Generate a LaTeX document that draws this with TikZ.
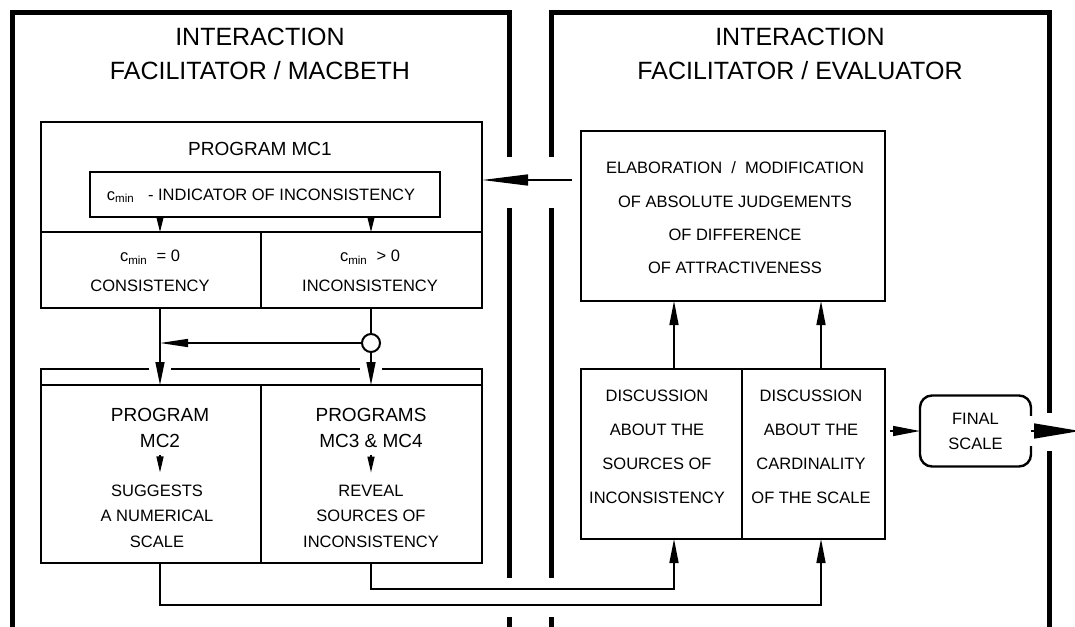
\documentclass[tikz,border=0pt]{standalone}
\usepackage{fontspec}
\setmainfont{Liberation Sans}
\usetikzlibrary{arrows.meta}
\begin{document}
\begin{tikzpicture}[x=1pt,y=-1pt,
  outerframe/.style={line width=5pt, line join=miter},
  panel/.style={draw, line width=2.6pt, inner sep=0pt, outer sep=0pt},
  cell/.style={inner sep=0pt, outer sep=0pt},
  rule/.style={line width=1.8pt},
  conn/.style={line width=1.5pt},
  head/.style={-{Triangle[length=24pt,width=9pt]}},
  title/.style={font=\fontsize{25}{34}\selectfont, align=center, inner sep=0pt},
  prog/.style={font=\fontsize{19}{26}\selectfont, align=center, inner sep=0pt},
  plain/.style={font=\fontsize{16.5}{30}\selectfont, align=center, inner sep=0pt},
]
\useasboundingbox (0,0) rectangle (1075,626);

% outer frames of the two actors
\draw[outerframe] (509,157) -- (509,13) -- (12,13) -- (12,640);
\draw[outerframe] (509,208) -- (509,578);
\draw[outerframe] (509,617) -- (509,640);
\draw[outerframe] (551,157) -- (551,13) -- (1049,13) -- (1049,413);
\draw[outerframe] (1049,451) -- (1049,640);
\draw[outerframe] (551,208) -- (551,578);
\draw[outerframe] (551,617) -- (551,640);

\node[title] (ltitle) at (260,54) {INTERACTION\\FACILITATOR / MACBETH};
\node[title] (rtitle) at (800,54) {INTERACTION\\FACILITATOR / EVALUATOR};

% column positions of the vertical connectors
\coordinate (colL) at (160,0);
\coordinate (colR) at (371,0);
\coordinate (colA) at (674,0);
\coordinate (colB) at (821,0);

% program MC1
\node[panel, minimum width=441pt, minimum height=186pt, anchor=north west] (mc1) at (41,122) {};
\node[prog] (mc1t) at (260,149) {PROGRAM MC1};
\node[draw, line width=2pt, minimum width=350pt, minimum height=45pt, inner sep=0pt, outer sep=0pt,
      text height=11.8pt, text depth=0pt, font=\fontsize{16.5}{20}\selectfont]
      (ind) at (265,194.5) {\hspace*{-8pt}c\textsubscript{min}\ \ \ - INDICATOR OF INCONSISTENCY};
\node[cell, minimum width=220pt, minimum height=76pt, anchor=north west] (cons) at (41,232) {};
\node[cell, minimum width=221pt, minimum height=76pt, anchor=north west] (incons) at (261,232) {};
\draw[rule] (cons.north west) -- (incons.north east);
\draw[rule] (cons.north east) -- (cons.south east);
\node[plain] (consT) at (150,271) {\smash{c\textsubscript{min}}\ \ = 0\\CONSISTENCY};
\node[plain] (inconsT) at (370,271) {\smash{c\textsubscript{min}}\ \ > 0\\INCONSISTENCY};
\draw[conn, -{Triangle[length=15pt,width=7pt]}] (ind.south -| colL) -- (cons.north -| colL);
\draw[conn, -{Triangle[length=15pt,width=7pt]}] (ind.south -| colR) -- (incons.north -| colR);

% programs MC2, MC3 and MC4
\node[panel, minimum width=441pt, minimum height=194pt, anchor=north west] (low) at (41,369) {};
\node[cell, minimum width=220pt, minimum height=178pt, anchor=north west] (mc2) at (41,385) {};
\node[cell, minimum width=221pt, minimum height=178pt, anchor=north west] (mc34) at (261,385) {};
\draw[rule] (mc2.north west) -- (mc34.north east);
\draw[rule] (mc2.north east) -- (mc2.south east);
\fill[white] (149,363) rectangle (171,375);
\fill[white] (360,363) rectangle (382,375);

\node[prog] (p2) at (160,428) {PROGRAM\\MC2};
\node[plain, font=\fontsize{16.5}{25.5}\selectfont] (s2) at (157,516) {SUGGESTS\\A NUMERICAL\\SCALE};
\node[prog] (p34) at (371,428) {PROGRAMS\\MC3 \& MC4};
\node[plain, font=\fontsize{16.5}{25.5}\selectfont] (s34) at (371,516) {REVEAL\\SOURCES OF\\INCONSISTENCY};
\draw[conn, -{Triangle[length=16pt,width=7pt]}, shorten <=7pt, shorten >=12pt] (p2.south) -- (p2.south |- s2.north);
\draw[conn, -{Triangle[length=16pt,width=7pt]}, shorten <=7pt, shorten >=12pt] (p34.south) -- (p34.south |- s34.north);

% flow from MC1 to the other programs
\draw[conn, -{Triangle[length=23pt,width=9pt]}] (cons.south -| colL) -- (mc2.north -| colL);
\node[circle, draw, line width=2pt, minimum size=18pt, inner sep=0pt] (junc) at (371,343) {};
\draw[conn] (incons.south -| colR) -- (junc.north);
\draw[conn, -{Triangle[length=23pt,width=9pt]}] (junc.south) -- (mc34.north -| colR);
\draw[conn, -{Triangle[length=28pt,width=8pt]}] (junc.west) -- (junc.west -| colL);

% evaluator side
\node[panel, minimum width=304pt, minimum height=170pt, anchor=north west] (elab) at (581,131) {};
\node[plain, font=\fontsize{16.5}{33.3}\selectfont] (elabT) at (735,218)
  {ELABORATION \ / \ MODIFICATION\\OF ABSOLUTE JUDGEMENTS\\OF DIFFERENCE\\OF ATTRACTIVENESS};

\node[panel, minimum width=304pt, minimum height=170pt, anchor=north west] (disc) at (581,369) {};
\node[cell, minimum width=161pt, minimum height=170pt, anchor=north west] (discL) at (581,369) {};
\node[cell, minimum width=143pt, minimum height=170pt, anchor=north west] (discR) at (742,369) {};
\draw[line width=2.6pt] (discL.north east) -- (discL.south east);
\node[plain, font=\fontsize{16.5}{34}\selectfont] (dLT) at (657,447)
  {DISCUSSION\\ABOUT THE\\SOURCES OF\\INCONSISTENCY};
\node[plain, font=\fontsize{16.5}{34}\selectfont] (dRT) at (811,447)
  {DISCUSSION\\ABOUT THE\\CARDINALITY\\OF THE SCALE};

\node[draw, rounded corners=12pt, line width=2.4pt, minimum width=111pt, minimum height=71pt,
      inner sep=0pt, outer sep=0pt, align=center, font=\fontsize{16.5}{25}\selectfont]
      (final) at (975.5,431) {FINAL\\SCALE};

\draw[conn, head] (discL.north -| colA) -- (elab.south -| colA);
\draw[conn, head] (discR.north -| colB) -- (elab.south -| colB);
\draw[conn, head] (mc34.south -| colR) -- ++(0,26) -| (discL.south -| colA);
\draw[conn, head] (mc2.south -| colL) -- ++(0,42) -| (discR.south -| colB);

\coordinate (fb) at (572,180);
\draw[conn, -{Triangle[length=46pt,width=11pt]}] (fb) -- (fb -| mc1.east);

\draw[conn, -{Triangle[length=27pt,width=10pt]}, shorten <=5pt] (final.west -| disc.east) -- (final.west);
\fill[white] (1025,416) rectangle (1037,446);
\coordinate (exit) at (1080,431);
\draw[conn, -{Triangle[length=46pt,width=15pt]}] (final.east) -- (exit);
\end{tikzpicture}
\end{document}
